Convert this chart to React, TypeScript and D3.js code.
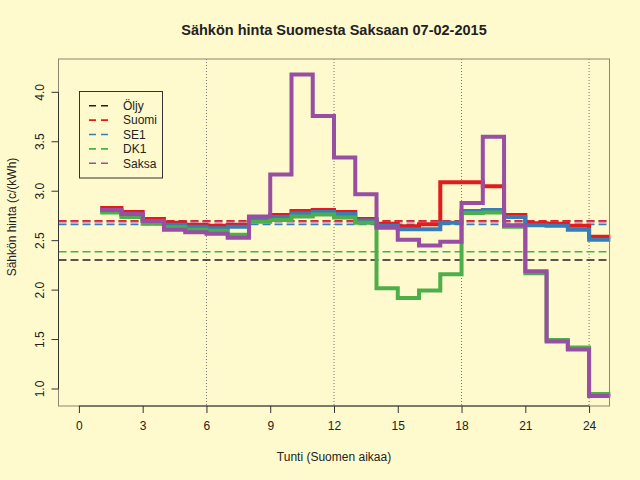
import React, {useEffect, useRef} from 'react';
import * as d3 from 'd3';

const hours = d3.range(1, 25);

const suomi = [2.83, 2.79, 2.72, 2.68, 2.66, 2.65, 2.66, 2.71, 2.76, 2.80, 2.81, 2.79,
  2.72, 2.67, 2.645, 2.665, 3.09, 3.09, 3.05, 2.76, 2.675, 2.67, 2.65, 2.54];
const se1 = [2.80, 2.76, 2.70, 2.66, 2.64, 2.625, 2.64, 2.72, 2.74, 2.775, 2.79, 2.77,
  2.705, 2.65, 2.615, 2.615, 2.68, 2.80, 2.81, 2.74, 2.655, 2.65, 2.61, 2.51];
const dk1 = [2.785, 2.74, 2.67, 2.635, 2.61, 2.60, 2.56, 2.69, 2.71, 2.745, 2.765, 2.735,
  2.68, 2.02, 1.92, 1.995, 2.16, 2.78, 2.785, 2.64, 2.17, 1.495, 1.42, 0.95];
const saksa = [2.81, 2.77, 2.70, 2.61, 2.585, 2.57, 2.53, 2.745, 3.17, 4.18, 3.76, 3.34,
  2.97, 2.63, 2.51, 2.45, 2.49, 2.88, 3.55, 2.655, 2.19, 1.48, 1.40, 0.93];

// daily averages (dashed)
const averages = [
  {name: 'Öljy', v: 2.304, color: '#222222'},
  {name: 'Suomi', v: 2.70, color: '#E41A1C'},
  {name: 'SE1', v: 2.665, color: '#377EB8'},
  {name: 'DK1', v: 2.388, color: '#4DAF4A'},
  {name: 'Saksa', v: 2.692, color: '#984EA3'},
];

const series = [
  {name: 'Suomi', values: suomi, color: '#E41A1C'},
  {name: 'SE1', values: se1, color: '#377EB8'},
  {name: 'DK1', values: dk1, color: '#4DAF4A'},
  {name: 'Saksa', values: saksa, color: '#984EA3'},
];

const xTicks = [0, 3, 6, 9, 12, 15, 18, 21, 24];
const yTicks = [1.0, 1.5, 2.0, 2.5, 3.0, 3.5, 4.0];
const gridX = [6, 12, 18, 24];

const App = () => {
  const refObject: any = useRef();
  const width = 640;
  const height = 480;
  const margin = {top: 59, right: 30.5, bottom: 74, left: 58.5};

  useEffect(() => {
    document.body.style.margin = '0';
    const svg: any = d3.select(refObject.current);
    svg.selectAll('*').remove();

    const font = '"Liberation Sans", Arial, Helvetica, sans-serif';
    const ink = '#222222';

    const x = d3.scaleLinear()
      .domain([-0.96, 24.96])
      .range([margin.left, width - margin.right]);
    const y = d3.scaleLinear()
      .domain([0.828, 4.337])
      .range([height - margin.bottom, margin.top]);

    svg.append('rect')
      .attr('width', width).attr('height', height)
      .attr('fill', '#FFFACD');

    // vertical dotted grid
    svg.append('g').selectAll('line').data(gridX).join('line')
      .attr('x1', (d: number) => x(d)).attr('x2', (d: number) => x(d))
      .attr('y1', y.range()[1]).attr('y2', y.range()[0])
      .attr('stroke', '#777').attr('stroke-width', 1)
      .attr('stroke-dasharray', '1,2');

    // average lines
    svg.append('g').selectAll('line').data(averages).join('line')
      .attr('x1', x.range()[0]).attr('x2', x.range()[1])
      .attr('y1', (d: any) => y(d.v)).attr('y2', (d: any) => y(d.v))
      .attr('stroke', (d: any) => d.color).attr('stroke-width', 1.6)
      .attr('stroke-dasharray', '8,4');

    // step lines
    const line = d3.line<[number, number]>()
      .x(d => x(d[0]))
      .y(d => y(d[1]))
      .curve(d3.curveStepAfter);

    series.forEach(s => {
      const pts: [number, number][] = hours.map((h, i) => [h, s.values[i]]);
      pts.push([25, s.values[s.values.length - 1]]);
      svg.append('path')
        .datum(pts)
        .attr('fill', 'none')
        .attr('stroke', s.color)
        .attr('stroke-width', 4)
        .attr('stroke-linejoin', 'miter')
        .attr('d', line);
    });

    // box
    svg.append('rect')
      .attr('x', x.range()[0]).attr('y', y.range()[1])
      .attr('width', x.range()[1] - x.range()[0])
      .attr('height', y.range()[0] - y.range()[1])
      .attr('fill', 'none').attr('stroke', '#8a8670').attr('stroke-width', 1);

    // x axis
    const xAxis = svg.append('g')
      .attr('transform', `translate(0,${y.range()[0]})`)
      .call(d3.axisBottom(x).tickValues(xTicks).tickSize(7).tickPadding(8).tickSizeOuter(0));
    xAxis.select('.domain').attr('d', `M${x(0)},0H${x(24)}`).attr('stroke', '#333');
    xAxis.selectAll('line').attr('stroke', '#333');
    xAxis.selectAll('text').attr('font-family', font).attr('font-size', 12).attr('fill', ink);

    // y axis
    const yAxis = svg.append('g')
      .attr('transform', `translate(${x.range()[0]},0)`)
      .call(d3.axisLeft(y).tickValues(yTicks).tickFormat(d3.format('.1f')).tickSize(7).tickSizeOuter(0));
    yAxis.select('.domain').attr('d', `M0,${y(1)}V${y(4)}`).attr('stroke', '#333');
    yAxis.selectAll('line').attr('stroke', '#333');
    yAxis.selectAll('text')
      .attr('font-family', font).attr('font-size', 12).attr('fill', ink)
      .attr('x', null)
      .attr('text-anchor', 'middle')
      .attr('transform', (d: number) => `translate(-19,${y(d)}) rotate(-90)`)
      .attr('y', 0)
      .attr('dy', '0.35em');
    yAxis.selectAll('.tick').attr('transform', null);
    yAxis.selectAll('.tick line')
      .attr('y1', (d: number) => y(d)).attr('y2', (d: number) => y(d));

    // title and labels
    svg.append('text')
      .attr('x', 334).attr('y', 30).attr('dy', '0.35em')
      .attr('text-anchor', 'middle')
      .attr('font-family', font).attr('font-size', 14.5).attr('font-weight', 'bold')
      .attr('fill', ink)
      .text('Sähkön hinta Suomesta Saksaan 07-02-2015');

    svg.append('text')
      .attr('x', 334).attr('y', 457).attr('dy', '0.35em')
      .attr('text-anchor', 'middle')
      .attr('font-family', font).attr('font-size', 12).attr('fill', ink)
      .text('Tunti (Suomen aikaa)');

    svg.append('text')
      .attr('transform', 'translate(12,217) rotate(-90)')
      .attr('dy', '0.35em')
      .attr('text-anchor', 'middle')
      .attr('font-family', font).attr('font-size', 12).attr('fill', ink)
      .text('Sähkön hinta (c/(kWh)');

    // legend
    const lg = svg.append('g');
    lg.append('rect')
      .attr('x', 79.5).attr('y', 91.5).attr('width', 83).attr('height', 86.5)
      .attr('fill', 'none').attr('stroke', '#333').attr('stroke-width', 1);
    const rows = lg.selectAll('g').data(averages).join('g')
      .attr('transform', (d: any, i: number) => `translate(0,${105.7 + i * 14.4})`);
    rows.append('line')
      .attr('x1', 89).attr('x2', 110)
      .attr('stroke', (d: any) => d.color).attr('stroke-width', 1.6)
      .attr('stroke-dasharray', '7,5');
    rows.append('text')
      .attr('x', 123).attr('dy', '0.35em')
      .attr('font-family', font).attr('font-size', 12).attr('fill', ink)
      .text((d: any) => d.name);
  }, []);

  return (
    <svg ref={refObject} width={width} height={height} style={{display: 'block'}}/>
  );
}

export default App;
